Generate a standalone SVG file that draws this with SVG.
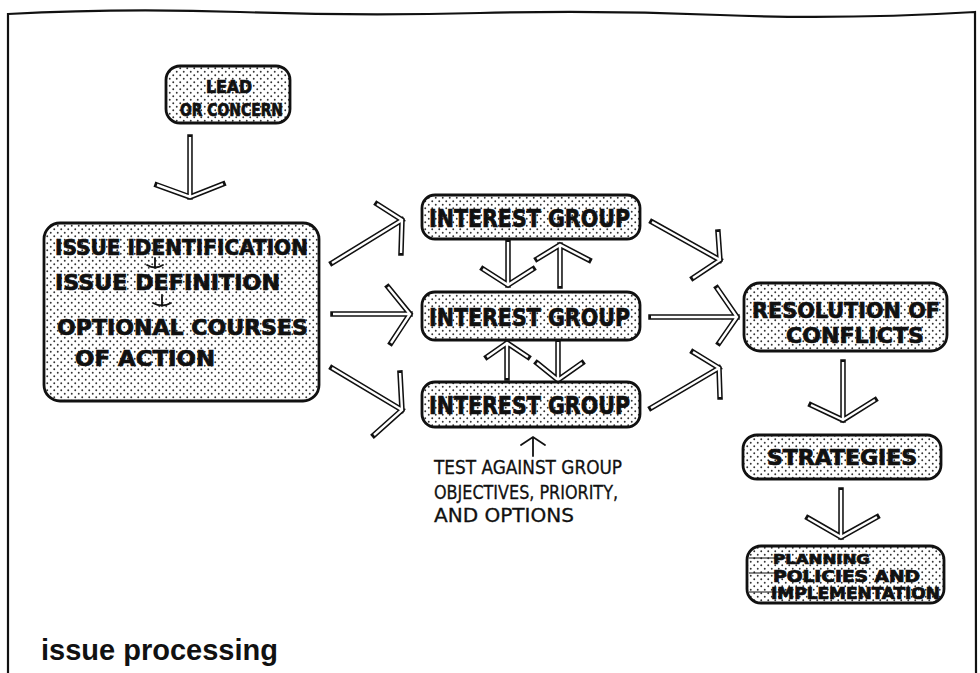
<svg xmlns="http://www.w3.org/2000/svg" width="980" height="673" viewBox="0 0 980 673">
  <style>
    .box { fill: url(#dots); stroke: #111; stroke-width: 2.8; }
    .lbl { font-family: "DejaVu Sans Condensed", "DejaVu Sans", sans-serif; font-weight: bold; fill: #111; stroke: #111; stroke-width: 0.7; }
    .note { font-family: "DejaVu Sans Condensed", "DejaVu Sans", sans-serif; fill: #111; stroke: #111; stroke-width: 0.3; }
    .title { font-family: "Liberation Sans", Arial, sans-serif; font-weight: bold; fill: #111; }
    .frame { fill: none; stroke: #111; stroke-width: 2.2; stroke-linecap: round; }
    .outer { fill: none; stroke: #111; stroke-width: 5.5; stroke-linejoin: miter; stroke-linecap: square; }
    .inner { fill: none; stroke: #fff; stroke-width: 2.4; stroke-linejoin: miter; stroke-linecap: butt; }
    .thin { fill: none; stroke: #111; stroke-width: 1.8; stroke-linecap: round; }
    .rule { fill: none; stroke: #111; stroke-width: 1; }
  </style>
  <defs>
    <pattern id="dots" width="7" height="7" patternUnits="userSpaceOnUse">
      <rect width="7" height="7" fill="#fff"/>
      <circle cx="1.75" cy="1.75" r="0.95" fill="#333"/>
      <circle cx="5.25" cy="5.25" r="0.95" fill="#333"/>
    </pattern>
    <!-- hollow double-line arrows: each path is stroked black, then white on top -->
    <g id="arrowPaths">
      <path d="M190 137 L190 197 M157 185 L190 197 L223 184"/>
      <path d="M332 263 L402 220 M377 204 L402 220 L401 253"/>
      <path d="M333 314 L410 314 M388 287 L410 314 L391 343"/>
      <path d="M332 368 L402 410 M400 373 L402 410 L374 435"/>
      <path d="M508 242 L508 285 M483 269 L508 285 L533 269"/>
      <path d="M560 286 L560 245 M537 259 L560 245 L589 260"/>
      <path d="M507 378 L507 343 M487 357 L507 343 L528 357"/>
      <path d="M558 342 L558 380 M537 363 L558 380 L582 363"/>
      <path d="M652 222 L720 260 M718 232 L720 260 L693 278"/>
      <path d="M651 317 L737 317 M717 288 L737 317 L719 343"/>
      <path d="M651 408 L719 368 M693 352 L719 368 L720 397"/>
      <path d="M843 362 L843 420 M811 405 L843 420 L875 400"/>
      <path d="M841 490 L841 537 M808 518 L841 537 L877 517"/>
    </g>
  </defs>

  <!-- page frame, open at the bottom -->
  <path class="frame" d="M8 673 L8 14 Q120 8 240 12 T480 13 T720 15 T975 12 L976 673"/>

  <!-- connectors -->
  <g id="connectors">
    <use href="#arrowPaths" class="outer"/>
    <use href="#arrowPaths" class="inner"/>
    <!-- small arrow under the lowest interest group -->
    <path class="thin" d="M533 456 L533 438 M521 445 L533 437 L545 445"/>
  </g>

  <g id="lead">
    <rect class="box" x="166" y="66" width="124" height="57" rx="14"/>
    <text class="lbl" x="206" y="93" font-size="17" textLength="46" lengthAdjust="spacingAndGlyphs">LEAD</text>
    <text class="lbl" x="180" y="116" font-size="17" textLength="103" lengthAdjust="spacingAndGlyphs">OR CONCERN</text>
  </g>

  <g id="issue">
    <rect class="box" x="44" y="223" width="275" height="178" rx="16"/>
    <text class="lbl" x="55" y="255" font-size="22" textLength="253" lengthAdjust="spacingAndGlyphs">ISSUE  IDENTIFICATION</text>
    <text class="lbl" x="55" y="290" font-size="22" textLength="225" lengthAdjust="spacingAndGlyphs">ISSUE  DEFINITION</text>
    <text class="lbl" x="57" y="335" font-size="22" textLength="251" lengthAdjust="spacingAndGlyphs">OPTIONAL  COURSES</text>
    <text class="lbl" x="75" y="366" font-size="22" textLength="140" lengthAdjust="spacingAndGlyphs">OF ACTION</text>
    <path class="thin" d="M155 258 L155 268 M147 265 Q155 270 163 265"/>
    <path class="thin" d="M162 295 L162 306 M153 303 Q162 308 171 303"/>
  </g>

  <g id="group1">
    <rect class="box" x="422" y="195" width="218" height="44" rx="13"/>
    <text class="lbl" x="429" y="227" font-size="25" textLength="201" lengthAdjust="spacingAndGlyphs">INTEREST  GROUP</text>
  </g>
  <g id="group2">
    <rect class="box" x="422" y="292" width="218" height="48" rx="13"/>
    <text class="lbl" x="429" y="326" font-size="25" textLength="201" lengthAdjust="spacingAndGlyphs">INTEREST  GROUP</text>
  </g>
  <g id="group3">
    <rect class="box" x="422" y="382" width="218" height="45" rx="13"/>
    <text class="lbl" x="429" y="414" font-size="25" textLength="201" lengthAdjust="spacingAndGlyphs">INTEREST  GROUP</text>
  </g>

  <g id="test-note">
    <text class="note" x="434" y="474" font-size="20" textLength="188" lengthAdjust="spacingAndGlyphs">TEST AGAINST  GROUP</text>
    <text class="note" x="434" y="499" font-size="20" textLength="184" lengthAdjust="spacingAndGlyphs">OBJECTIVES, PRIORITY,</text>
    <text class="note" x="434" y="522" font-size="20" textLength="140" lengthAdjust="spacingAndGlyphs">AND OPTIONS</text>
  </g>

  <g id="resolution">
    <rect class="box" x="744" y="283" width="203" height="68" rx="16"/>
    <text class="lbl" x="752" y="318" font-size="22" textLength="188" lengthAdjust="spacingAndGlyphs">RESOLUTION OF</text>
    <text class="lbl" x="786" y="343" font-size="22" textLength="138" lengthAdjust="spacingAndGlyphs">CONFLICTS</text>
  </g>

  <g id="strategies">
    <rect class="box" x="743" y="435" width="198" height="44" rx="14"/>
    <text class="lbl" x="767" y="465" font-size="21" textLength="150" lengthAdjust="spacingAndGlyphs">STRATEGIES</text>
  </g>

  <g id="planning">
    <rect class="box" x="747" y="546" width="197" height="57" rx="14"/>
    <path class="rule" d="M749 558 L790 558 M749 573 L785 573 M749 592 L782 592"/>
    <text class="lbl" x="773" y="564" font-size="14" textLength="97" lengthAdjust="spacingAndGlyphs">PLANNING</text>
    <text class="lbl" x="773" y="582" font-size="15" textLength="147" lengthAdjust="spacingAndGlyphs">POLICIES AND</text>
    <text class="lbl" x="771" y="599" font-size="15" textLength="169" lengthAdjust="spacingAndGlyphs">IMPLEMENTATION</text>
  </g>

  <text class="title" x="41" y="660" font-size="29">issue  processing</text>
</svg>
